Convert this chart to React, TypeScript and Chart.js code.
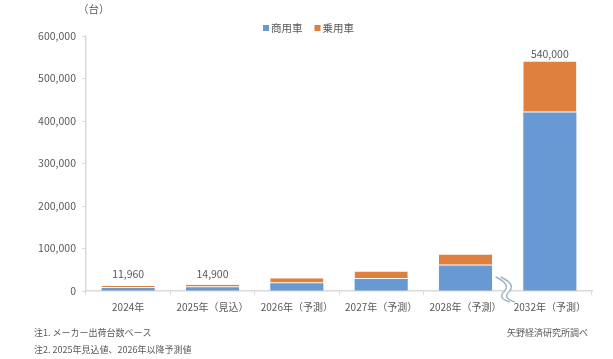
import React, { useEffect, useRef } from "react";
import { Chart, registerables } from "chart.js";

Chart.register(...registerables);

const categories = ["2024年", "2025年（見込）", "2026年（予測）", "2027年（予測）", "2028年（予測）", "2032年（予測）"];
const commercial = [7000, 9000, 18000, 28000, 60000, 420000];
const passenger = [4960, 5900, 12000, 18000, 26000, 120000];
const totalLabels = ["11,960", "14,900", "", "", "", "540,000"];
const seriesNames = ["商用車", "乗用車"];
const colors = ["#6899d3", "#e0803e"];
const yTicks = [0, 100000, 200000, 300000, 400000, 500000, 600000];

const FONT = "'Noto Sans CJK JP', 'Noto Sans', sans-serif";

export default function App() {
  const ref = useRef<HTMLCanvasElement | null>(null);
  useEffect(() => {
    const canvas = ref.current!;
    const overlay = {
      id: "overlay",
      afterDraw(chart: any) {
        const ctx = chart.ctx;
        const xs = chart.scales.x;
        const ys = chart.scales.y;
        const area = chart.chartArea;
        ctx.save();
        // unit
        ctx.fillStyle = "#595959";
        ctx.font = `10.5px ${FONT}`;
        ctx.textAlign = "left";
        ctx.textBaseline = "middle";
        ctx.fillText("（台）", area.left - 8, 9);
        // legend
        ctx.font = `10.5px ${FONT}`;
        let lx = 263;
        seriesNames.forEach((n, i) => {
          ctx.fillStyle = colors[i];
          ctx.fillRect(lx, 25, 6, 6);
          ctx.fillStyle = "#595959";
          ctx.fillText(n, lx + 8, 28);
          lx += 8 + ctx.measureText(n).width + 12;
        });
        // totals
        ctx.textAlign = "center";
        ctx.textBaseline = "bottom";
        ctx.font = `10.5px ${FONT}`;
        ctx.fillStyle = "#595959";
        totalLabels.forEach((t, i) => {
          if (!t) return;
          const total = commercial[i] + passenger[i];
          const top = ys.getPixelForValue(total);
          const y = Math.min(top - 2, ys.getPixelForValue(0) - 12);
          ctx.fillText(t, xs.getPixelForValue(i), y);
        });
        // break mark
        const bx = (xs.getPixelForValue(4) + xs.getPixelForValue(5)) / 2 - 6;
        const by = ys.getPixelForValue(0);
        const zig = (dx: number) => {
          ctx.beginPath();
          ctx.moveTo(bx - 6 + dx, by - 14);
          ctx.quadraticCurveTo(bx + 9 + dx, by - 7, bx + 3 + dx, by);
          ctx.quadraticCurveTo(bx - 5 + dx, by + 7, bx + 8 + dx, by + 11);
        };
        ctx.fillStyle = "#ffffff";
        ctx.beginPath();
        ctx.moveTo(bx - 6, by - 14);
        ctx.quadraticCurveTo(bx + 9, by - 7, bx + 3, by);
        ctx.quadraticCurveTo(bx - 5, by + 7, bx + 8, by + 11);
        ctx.lineTo(bx + 13, by + 11);
        ctx.quadraticCurveTo(bx, by + 7, bx + 8, by);
        ctx.quadraticCurveTo(bx + 14, by - 7, bx - 1, by - 14);
        ctx.closePath();
        ctx.fill();
        ctx.strokeStyle = "#a3b5c8";
        ctx.lineWidth = 1.5;
        zig(0);
        ctx.stroke();
        zig(5);
        ctx.stroke();
        // footnotes
        ctx.fillStyle = "#595959";
        ctx.font = `9px ${FONT}`;
        ctx.textAlign = "left";
        ctx.textBaseline = "middle";
        ctx.fillText("注1. メーカー出荷台数ベース", 34, 333);
        ctx.fillText("注2. 2025年見込値、2026年以降予測値", 34, 350);
        ctx.fillText("矢野経済研究所調べ", 507, 333);
        ctx.restore();
      },
    };
    const chart = new Chart(canvas, {
      type: "bar",
      data: {
        labels: categories,
        datasets: [
          { label: seriesNames[0], data: commercial, backgroundColor: colors[0], categoryPercentage: 0.63, barPercentage: 1 },
          {
            label: seriesNames[1],
            data: passenger,
            backgroundColor: colors[1],
            borderColor: "#ffffff",
            borderWidth: { top: 0, left: 0, right: 0, bottom: 1 },
            borderSkipped: false,
            categoryPercentage: 0.63,
            barPercentage: 1,
          },
        ],
      },
      options: {
        responsive: false,
        animation: false,
        devicePixelRatio: 1,
        layout: { padding: { top: 36, right: 21, left: 0, bottom: 0 } },
        plugins: { legend: { display: false }, tooltip: { enabled: false } },
        scales: {
          x: {
            stacked: true,
            grid: { drawOnChartArea: false, drawTicks: true, tickLength: 4, color: "#d9d9d9", offset: true },
            border: { color: "#d9d9d9", width: 1.5 },
            ticks: { color: "#595959", font: { size: 10, family: FONT }, maxRotation: 0, autoSkip: false, padding: 6 },
            afterFit: (s: any) => { s.height = 68; },
          },
          y: {
            stacked: true,
            min: 0,
            max: 600000,
            afterBuildTicks: (s: any) => { s.ticks = yTicks.map((v) => ({ value: v })); },
            grid: { drawOnChartArea: false, drawTicks: true, tickLength: 4, color: "#d9d9d9" },
            border: { color: "#d9d9d9", width: 1.5 },
            ticks: {
              color: "#595959",
              font: { size: 10.5, family: FONT },
              padding: 6,
              callback: (v: any) => Number(v).toLocaleString("en-US"),
            },
            afterFit: (s: any) => { s.width = 86; },
          },
        },
      },
      plugins: [overlay],
    });
    return () => chart.destroy();
  }, []);
  return (
    <div style={{ position: "fixed", left: 0, top: 0, width: 613, height: 359, background: "#fff" }}>
      <canvas ref={ref} width={613} height={359} style={{ width: 613, height: 359, display: "block" }} />
    </div>
  );
}
